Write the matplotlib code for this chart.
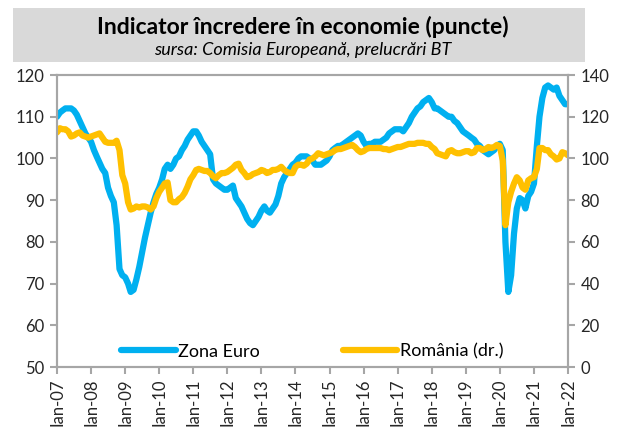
import pandas as pd
import matplotlib
matplotlib.use("Agg")
import matplotlib.pyplot as plt
from matplotlib.patches import Rectangle

# indicator incredere in economie, lunar ian-07 .. ian-22
zona_euro = [
    110, 111, 111.5, 112, 112, 112, 111.5, 110.5, 109, 107.5, 106, 105,        # 2007
    104, 102, 100.5, 99, 97.5, 96.5, 93, 91, 89.5, 84, 73.5, 72,               # 2008
    71.5, 70, 68, 68.5, 71, 74, 77.5, 81, 84, 87, 89.5, 91.5,                  # 2009
    93, 95, 97.5, 98.5, 97.5, 98.5, 100, 100.5, 102, 103, 104.5, 105.5,        # 2010
    106.5, 106.5, 105.5, 104, 103, 102, 101, 95, 94, 93.5, 93, 92.5,           # 2011
    92.5, 93, 93.5, 90.5, 89.5, 88.5, 87, 85.5, 84.5, 84, 85, 86,              # 2012
    87.5, 88.5, 87.5, 87, 88, 89, 91, 94, 95.5, 96.5, 97.5, 98.5,              # 2013
    99, 100, 100.5, 100.5, 100.5, 100, 99.5, 98.5, 98.5, 98.5, 99, 99.5,       # 2014
    100.5, 102, 102.5, 103, 103, 103.5, 104, 104.5, 105, 105.5, 106, 105.5,    # 2015
    104, 103, 103.5, 103.5, 104, 104, 104, 104.5, 105, 106, 106.5, 107,        # 2016
    107, 107, 106.5, 107.5, 108.5, 110, 111, 112, 112.5, 113.5, 114, 114.5,    # 2017
    113.5, 112, 112, 111.5, 111, 110.5, 110, 110, 109, 108.5, 107.5, 106.5,    # 2018
    106, 105.5, 105, 104.5, 103.5, 103, 102, 101.5, 101, 101.5, 102, 103,      # 2019
    103.5, 102, 80, 68, 72, 82, 88, 90.5, 90, 88, 91, 92,                      # 2020
    94, 103, 110, 114.5, 117, 117.5, 117, 116.5, 117, 115, 114, 113,           # 2021
    113,                                                                       # 2022
]

romania = [
    112.5, 114.5, 114, 114, 113, 110.5, 111, 112, 112.5, 111, 110.5, 110,      # 2007
    110.5, 111, 111.5, 112, 110, 108, 107.5, 107.5, 107.5, 108.5, 104, 92,     # 2008
    88, 79, 75.5, 76, 77, 76.5, 77, 77, 76.5, 75.5, 77, 81,                    # 2009
    84, 86, 88, 88.5, 80, 79, 79, 80.5, 81.5, 83.5, 86.5, 90,                  # 2010
    92, 94.5, 95, 94.5, 94, 94, 93, 91.5, 90.5, 92, 93, 93,                    # 2011
    93.5, 94.5, 95.5, 97, 97.5, 94.5, 93, 91, 91.5, 92.5, 93, 93.5,            # 2012
    94.5, 94, 93, 93.5, 94.5, 94.5, 95, 96, 94.5, 93.5, 93, 93,                # 2013
    96, 97, 97, 96.5, 97.5, 99.5, 100, 101, 102.5, 102, 101.5, 102,            # 2014
    102.5, 103, 104, 104.5, 104.5, 105, 105.5, 106, 106.5, 105.5, 104, 103,    # 2015
    103.5, 104.5, 105, 105, 105, 105, 105, 104.5, 104.5, 104, 104.5, 105,      # 2016
    105.5, 105.5, 106, 106.5, 107, 107, 107, 107.5, 107.5, 107.5, 107, 107,    # 2017
    105.5, 104.5, 102.5, 102, 101.5, 101, 103.5, 104, 103, 102.5, 102.5, 103,  # 2018
    103.5, 103.5, 102.5, 103, 105, 105, 104, 104.5, 105.5, 105, 105.5, 106.5,  # 2019
    106, 99, 68, 79, 84, 88, 91, 89.5, 86, 85, 89.5, 90.5,                     # 2020
    91, 95, 105, 105, 104, 104, 102, 101, 99.5, 100, 103, 102.5,               # 2021
    101.5,                                                                     # 2022
]

luni = pd.date_range("2007-01-01", periods=len(zona_euro), freq="MS")
ani = pd.date_range("2007-01-01", "2022-01-01", freq="YS")
etichete = ["Ian-" + d.strftime("%y") for d in ani]

albastru = "#00B0F0"
galben = "#FFC000"
gri = "#A6A6A6"
font = ["Lato", "DejaVu Sans"]
plt.rcParams["font.family"] = font

fig = plt.figure(figsize=(6.17, 4.30), dpi=100)

# caseta titlu
fig.patches.append(Rectangle((0.021, 0.856), 0.927, 0.125, transform=fig.transFigure,
                             facecolor="#D9D9D9", edgecolor="none", zorder=0))
fig.text(0.49, 0.937, "Indicator încredere în economie (puncte)", ha="center", va="center",
         fontsize=16.5, fontweight="bold",
         family=["Liberation Sans Narrow", "Lato", "DejaVu Sans"])
fig.text(0.49, 0.884, "sursa: Comisia Europeană, prelucrări BT", ha="center", va="center",
         fontsize=13, style="italic", family=font)

ax = fig.add_axes([0.0924, 0.1465, 0.8282, 0.679])
ax2 = ax.twinx()

l1, = ax.plot(luni, zona_euro, color=albastru, lw=4.5, solid_capstyle="round")
l2, = ax2.plot(luni, romania, color=galben, lw=4.5, solid_capstyle="round")

ax.set_ylim(50, 120)
ax2.set_ylim(0, 140)
ax.set_yticks(range(50, 121, 10))
ax2.set_yticks(range(0, 141, 20))
ax.set_xlim(ani[0], ani[-1])
ax.set_xticks(ani)
ax.set_xticklabels(etichete, rotation=90)

for a in (ax, ax2):
    for s in a.spines.values():
        s.set_color(gri)
        s.set_linewidth(1.5)
    a.tick_params(colors="#262626", labelsize=12, length=5, width=1.5)
    a.tick_params(axis="both", color=gri)
ax.tick_params(axis="y", pad=4)
ax2.tick_params(axis="y", pad=4)
ax.tick_params(axis="x", pad=3)

ax2.legend([l1, l2], ["Zona Euro", "România (dr.)"], loc="lower center", ncol=2,
           frameon=False, fontsize=13, handlelength=3.0, handletextpad=0.15,
           columnspacing=4.6, bbox_to_anchor=(0.5, -0.03))

fig.savefig("out.png", dpi=100)
